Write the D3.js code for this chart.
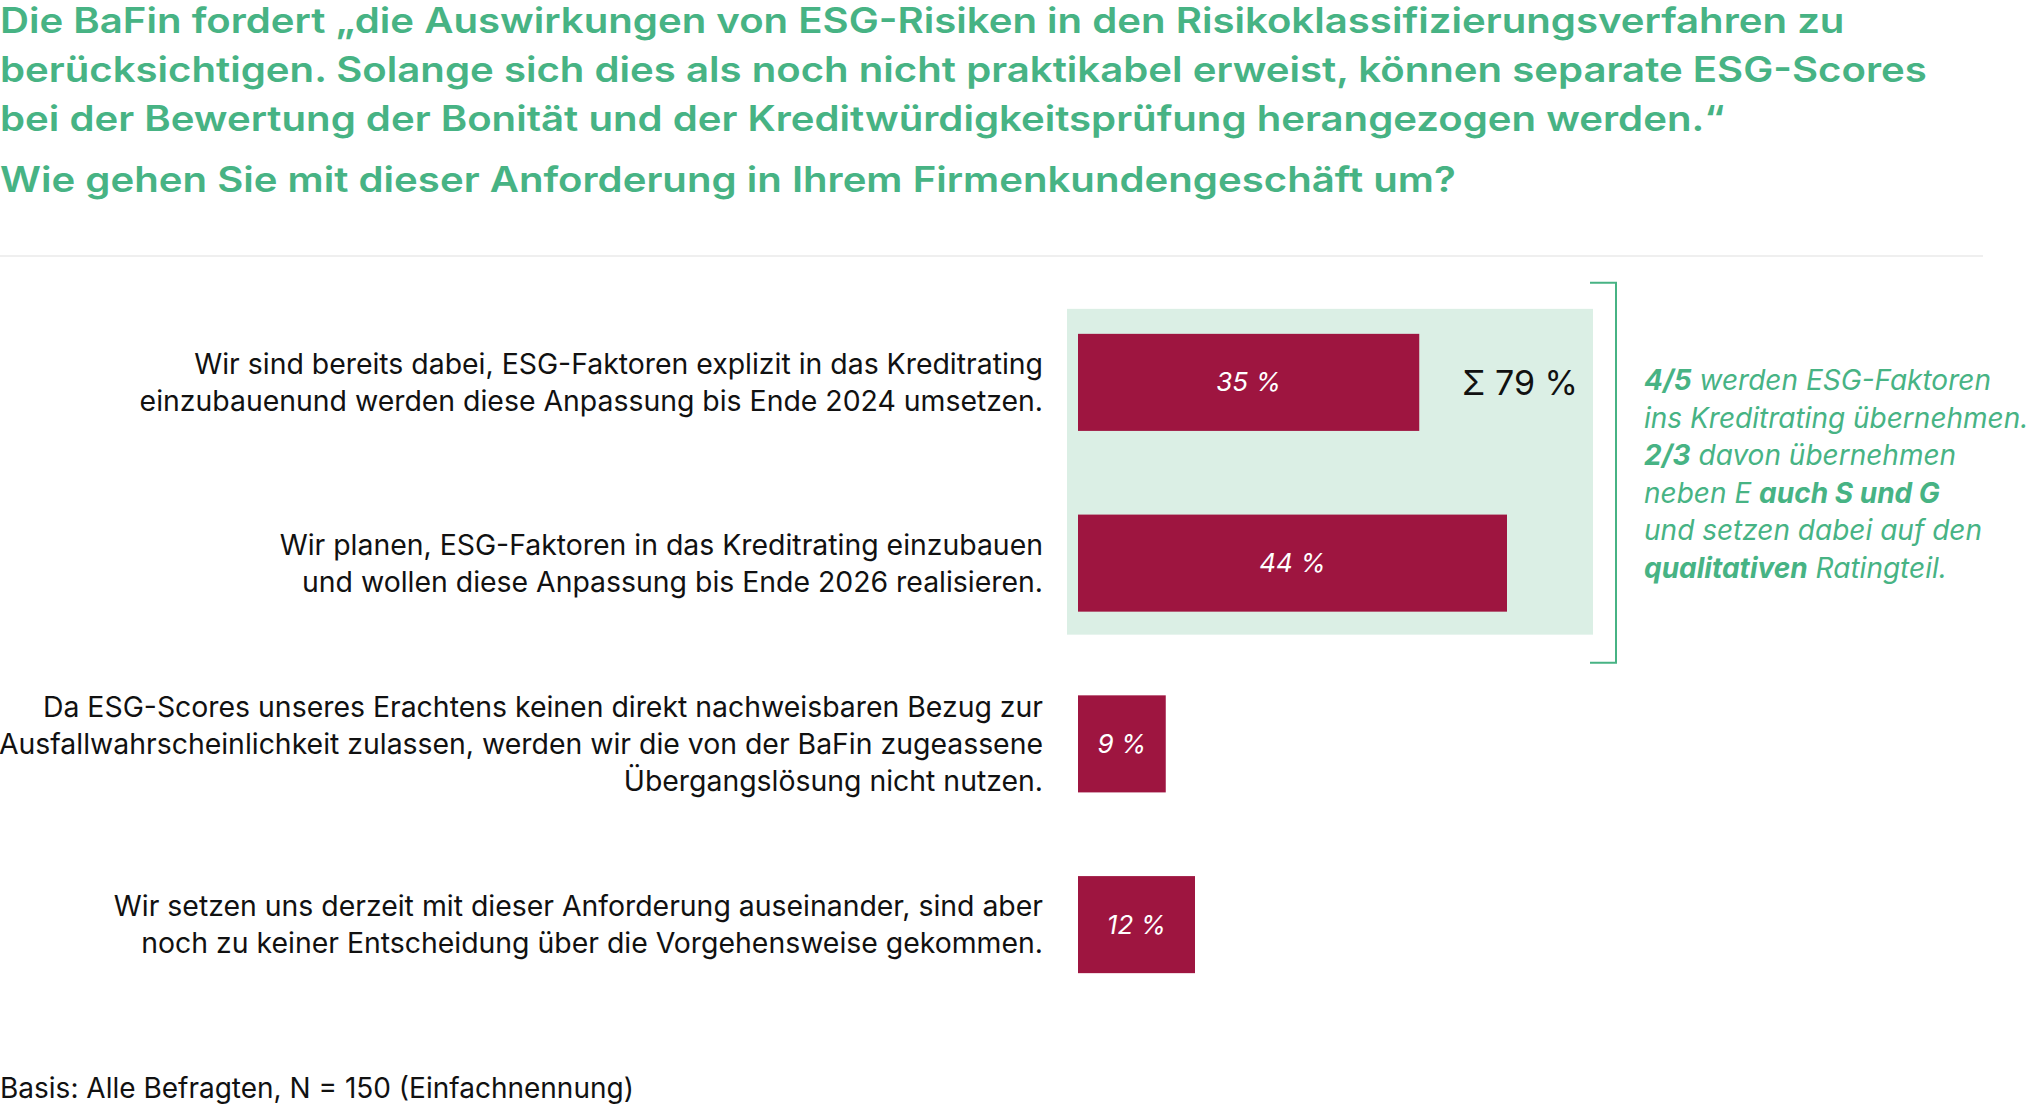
<!DOCTYPE html>
<html>
<head>
<meta charset="utf-8">
<script src="https://cdn.jsdelivr.net/npm/d3@7"></script>
<style>
  html, body { margin: 0; padding: 0; background: #fff; }
  svg { display: block; }
  text { font-family: Inter, "Noto Sans", sans-serif; }
</style>
</head>
<body>
<svg id="chart"></svg>
<script>
const titleLines = [
  "Die BaFin fordert \u201Edie Auswirkungen von ESG-Risiken in den Risikoklassifizierungsverfahren zu",
  "berücksichtigen. Solange sich dies als noch nicht praktikabel erweist, können separate ESG-Scores",
  "bei der Bewertung der Bonität und der Kreditwürdigkeitsprüfung herangezogen werden.\u201C",
];
const question = "Wie gehen Sie mit dieser Anforderung in Ihrem Firmenkundengeschäft um?";

const categories = [
  ["Wir sind bereits dabei, ESG-Faktoren explizit in das Kreditrating",
   "einzubauenund werden diese Anpassung bis Ende 2024 umsetzen."],
  ["Wir planen, ESG-Faktoren in das Kreditrating einzubauen",
   "und wollen diese Anpassung bis Ende 2026 realisieren."],
  ["Da ESG-Scores unseres Erachtens keinen direkt nachweisbaren Bezug zur",
   "Ausfallwahrscheinlichkeit zulassen, werden wir die von der BaFin zugeassene",
   "Übergangslösung nicht nutzen."],
  ["Wir setzen uns derzeit mit dieser Anforderung auseinander, sind aber",
   "noch zu keiner Entscheidung über die Vorgehensweise gekommen."],
];
const values = [35, 44, 9, 12];
const groupedCount = 2; // first two bars are summed

// annotation: each line is a list of [text, bold]
const noteLines = [
  [["4/5", true], [" werden ESG-Faktoren", false]],
  [["ins Kreditrating übernehmen.", false]],
  [["2/3", true], [" davon übernehmen", false]],
  [["neben E ", false], ["auch S und G", true]],
  [["und setzen dabei auf den", false]],
  [["qualitativen", true], [" Ratingteil.", false]],
];
const footnote = "Basis: Alle Befragten, N = 150 (Einfachnennung)";

const width = 2029, height = 1107;
const green = "#47b384", bar = "#9e1540", bgGreen = "#dbefe5";

const svg = d3.select("#chart").attr("width", width).attr("height", height);

// title (the original face is wider than Inter, so stretch each line a bit)
const stretch = 1.147;
const title = svg.append("g").attr("fill", green)
  .style("font-weight", 600).style("font-size", "35px");
title.selectAll("text").data(titleLines.concat([question])).join("text")
  .attr("x", 0)
  .attr("y", (d, i) => i < 3 ? 33 + i * 49 : 192)
  .text(d => d)
  .each(function () {
    const w = this.getComputedTextLength();
    d3.select(this)
      .attr("textLength", w * stretch)
      .attr("lengthAdjust", "spacingAndGlyphs");
  });

svg.append("line")
  .attr("x1", 0).attr("x2", 1983).attr("y1", 256).attr("y2", 256)
  .attr("stroke", "#efefef").attr("stroke-width", 2);

// scales
const x = d3.scaleLinear().domain([0, 100]).range([1078, 2053]);
const y = d3.scaleBand()
  .domain(d3.range(values.length))
  .range([292, 1015])
  .paddingInner(0.463)
  .paddingOuter(0.2315);

// highlight box behind the first two bars
const boxTop = y(0) - 25;
const boxBottom = y(groupedCount - 1) + y.bandwidth() + 23;
svg.append("rect")
  .attr("x", x(0) - 11).attr("y", boxTop)
  .attr("width", 1593 - (x(0) - 11)).attr("height", boxBottom - boxTop)
  .attr("fill", bgGreen);

// bracket
const bx = 1616;
svg.append("path")
  .attr("d", `M1590,${boxTop - 26}H${bx}V${boxBottom + 28}H1590`)
  .attr("fill", "none").attr("stroke", green).attr("stroke-width", 2);

// bars
svg.append("g").selectAll("rect").data(values).join("rect")
  .attr("x", x(0))
  .attr("y", (d, i) => y(i))
  .attr("width", d => x(d) - x(0))
  .attr("height", y.bandwidth())
  .attr("fill", bar);

svg.append("g").selectAll("text").data(values).join("text")
  .attr("x", d => (x(0) + x(d)) / 2)
  .attr("y", (d, i) => y(i) + y.bandwidth() / 2 + 9)
  .attr("text-anchor", "middle")
  .attr("fill", "#fff")
  .style("font-style", "italic")
  .style("font-size", "26px")
  .text(d => `${d} %`);

// category labels
const lh = 37;
const labels = svg.append("g").attr("fill", "#111").style("font-size", "28.4px");
categories.forEach((lines, i) => {
  const c = y(i) + y.bandwidth() / 2;
  const first = c - ((lines.length - 1) * lh + 20) / 2 + 20;
  const t = labels.append("text").attr("text-anchor", "end");
  lines.forEach((l, j) => {
    t.append("tspan").attr("x", 1043).attr("y", first + j * lh).text(l);
  });
});

// sum
svg.append("text")
  .attr("x", 1462)
  .attr("y", y(0) + y.bandwidth() / 2 + 13)
  .attr("fill", "#111")
  .style("font-size", "34px")
  .text(`\u03A3 ${d3.sum(values.slice(0, groupedCount))} %`);

// note
const note = svg.append("g").attr("fill", green)
  .style("font-style", "italic").style("font-size", "28px");
noteLines.forEach((parts, i) => {
  const t = note.append("text").attr("x", 1644).attr("y", 390 + i * 37.5);
  parts.forEach(([s, b]) => {
    t.append("tspan").style("font-weight", b ? 700 : 400).text(s);
  });
});

svg.append("text")
  .attr("x", 0).attr("y", 1098)
  .attr("fill", "#111")
  .style("font-size", "28px")
  .text(footnote);
</script>
</body>
</html>
